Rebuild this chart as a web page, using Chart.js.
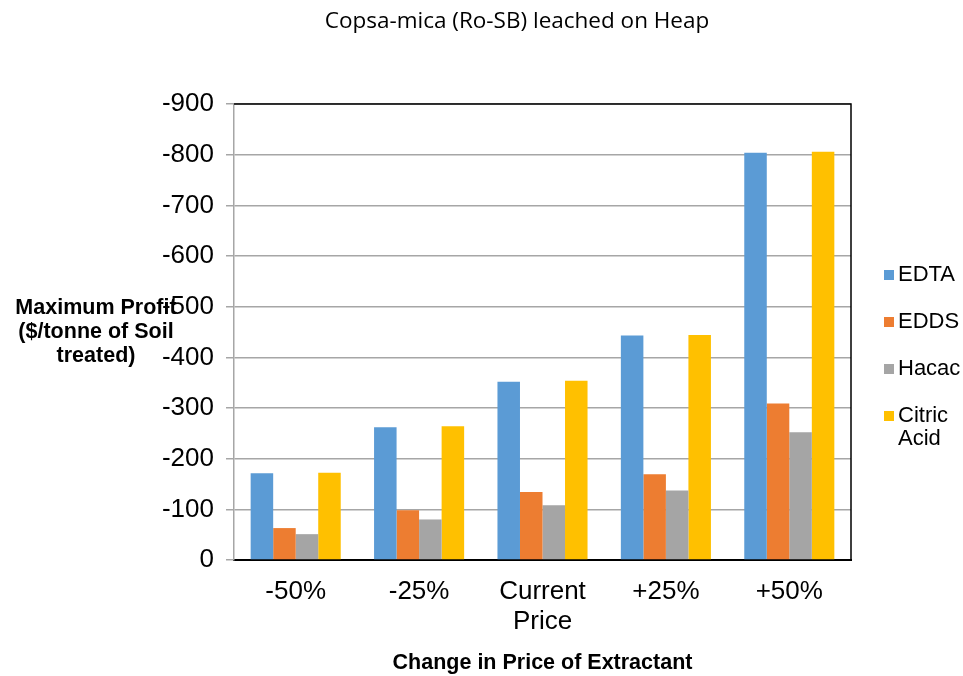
<!DOCTYPE html>
<html>
<head>
<meta charset="utf-8">
<script src="https://cdn.jsdelivr.net/npm/chart.js@4"></script>
<style>
  html, body { margin: 0; padding: 0; background: #fff; }
  #wrap { width: 963px; height: 676px; }
</style>
</head>
<body>
<div id="wrap"><canvas id="barChart"></canvas></div>
<script>
const categories = ["-50%", "-25%", ["Current", "Price"], "+25%", "+50%"];
const edta = [-171, -262, -352, -443, -804];
const edds = [-63, -98, -134, -169, -309];
const hacac = [-51, -80, -108, -137, -252];
const citric = [-172, -264, -354, -444, -806];
const seriesNames = ["EDTA", "EDDS", "Hacac", ["Citric", "Acid"]];
const seriesColors = ["#5B9BD5", "#ED7D31", "#A5A5A5", "#FFC000"];

const chartTitle = "Copsa-mica (Ro-SB) leached on Heap";
const yTitle = ["Maximum Profit", "($/tonne of Soil", "treated)"];
const xTitle = "Change in Price of Extractant";

// title, y axis title, frame and legend drawn by hand
const extras = {
  id: "extras",
  afterDraw(chart) {
    const c = chart.ctx;
    const a = chart.chartArea;
    c.save();

    c.fillStyle = "#000";
    c.textAlign = "center";
    c.textBaseline = "middle";
    c.font = '22.5px "Open Sans"';
    c.fillText(chartTitle, 517, 22);

    c.font = 'bold 21.5px "Liberation Sans", Arial';
    yTitle.forEach((t, i) => c.fillText(t, 96, 308 + i * 24));

    c.strokeStyle = "#000";
    c.lineWidth = 1.5;
    c.beginPath();
    c.moveTo(a.left, a.top);
    c.lineTo(a.right, a.top);
    c.lineTo(a.right, a.bottom);
    c.stroke();

    c.textAlign = "left";
    c.font = '22px "Liberation Sans", Arial';
    let y = a.top + 171;
    seriesNames.forEach((name, i) => {
      c.fillStyle = seriesColors[i];
      c.fillRect(a.right + 33, y - 5, 10, 10);
      c.fillStyle = "#000";
      const lines = Array.isArray(name) ? name : [name];
      lines.forEach((ln, j) => c.fillText(ln, a.right + 47, y + j * 23));
      y += 47;
    });
    c.restore();
  }
};

const ctx = document.getElementById("barChart");

const barChart = new Chart(ctx, {
  type: "bar",
  data: {
    labels: categories,
    datasets: [
      { label: "EDTA", data: edta, backgroundColor: seriesColors[0] },
      { label: "EDDS", data: edds, backgroundColor: seriesColors[1] },
      { label: "Hacac", data: hacac, backgroundColor: seriesColors[2] },
      { label: "Citric Acid", data: citric, backgroundColor: seriesColors[3] },
    ],
  },
  options: {
    responsive: true,
    maintainAspectRatio: false,
    animation: false,
    layout: {
      padding: { top: 104, right: 112, left: 0, bottom: 0 },
    },
    datasets: {
      bar: {
        categoryPercentage: 0.73,
        barPercentage: 1.0,
      },
    },
    scales: {
      x: {
        grid: { display: false },
        border: { color: "#000", width: 2 },
        ticks: {
          color: "#000",
          padding: 9,
          font: { family: '"Liberation Sans", Arial', size: 26, lineHeight: 1.15 },
        },
        title: {
          display: true,
          text: xTitle,
          color: "#000",
          padding: { top: 0, bottom: 0 },
          font: { family: '"Liberation Sans", Arial', size: 21.5, weight: "bold" },
        },
        afterFit(scale) {
          scale.height = 116;
        },
      },
      y: {
        reverse: true,
        min: -900,
        max: 0,
        ticks: {
          stepSize: 100,
          color: "#000",
          padding: 12,
          font: { family: '"Liberation Sans", Arial', size: 26 },
        },
        grid: {
          color: "#A6A6A6",
          lineWidth: 1.5,
          tickLength: 8,
        },
        border: { color: "#A6A6A6", width: 1.5 },
        afterFit(scale) {
          scale.width = 234;
        },
      },
    },
    plugins: {
      legend: { display: false },
      title: { display: false },
      tooltip: { enabled: false },
    },
  },
  plugins: [extras],
});
</script>
</body>
</html>
